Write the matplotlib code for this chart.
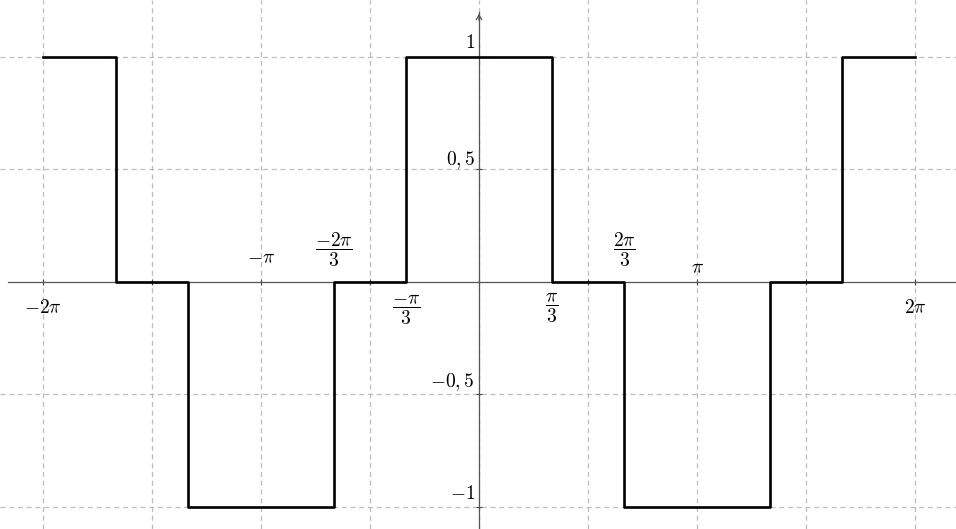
import numpy as np
import matplotlib
matplotlib.use("Agg")
import matplotlib.pyplot as plt

plt.rcParams['mathtext.fontset'] = 'cm'
plt.rcParams['font.family'] = 'serif'
plt.rcParams['font.serif'] = ['DejaVu Serif']

# step function: breakpoints in units of pi/3, value held until next breakpoint
breaks = [-6, -5, -4, -2, -1, 1, 2, 4, 5, 6]
values = [1, 0, -1, 0, 1, 0, -1, 0, 1, 1]

# x labels: (position in units of pi/3, text, height of label centre)
xlab_pos = [-6, -3, -2, -1, 1, 2, 3, 6]
xlab_txt = [r'$-2\pi$', r'$-\pi$', r'$\dfrac{-2\pi}{3}$', r'$\dfrac{-\pi}{3}$',
            r'$\dfrac{\pi}{3}$', r'$\dfrac{2\pi}{3}$', r'$\pi$', r'$2\pi$']
xlab_y = [-0.116, 0.107, 0.142, -0.124, -0.116, 0.142, 0.062, -0.116]

ylab_val = [1, 0.5, -0.5, -1]
ylab_txt = [r'$1$', r'$0,5$', r'$-0,5$', r'$-1$']
ylab_y = [1.062, 0.542, -0.444, -0.942]

fig = plt.figure(figsize=(9.56, 5.29), dpi=100)
ax = fig.add_axes([0, 0, 1, 1])
ax.set_xlim(-6.903, 6.874)
ax.set_ylim(-1.098, 1.2533)

ax.set_xticks(np.arange(-4, 5) * np.pi / 2)
ax.set_yticks([-1, -0.5, 0.5, 1])
ax.set_xticklabels([])
ax.set_yticklabels([])
ax.grid(True, color='#bdbdbd', linestyle=(0, (4, 3)), linewidth=0.9)
ax.tick_params(direction='inout', length=5, width=0.8, colors='#444444')

for s in ['top', 'right']:
    ax.spines[s].set_visible(False)
ax.spines['left'].set_position(('data', 0))
ax.spines['bottom'].set_position(('data', 0))
ax.spines['left'].set_bounds(-1.098, 1.2)
ax.spines['bottom'].set_bounds(-6.788, 6.874)
for s in ['left', 'bottom']:
    ax.spines[s].set_color('#555555')
    ax.spines[s].set_linewidth(0.9)
ax.annotate('', xy=(0, 1.205), xytext=(0, 1.15),
            arrowprops=dict(arrowstyle='->,head_length=0.35,head_width=0.2',
                            color='#555555', lw=0.9))

xs = np.array(breaks) * np.pi / 3
ax.step(xs, values, where='post', color='black', linewidth=1.9, zorder=5)

for p, t, y in zip(xlab_pos, xlab_txt, xlab_y):
    ax.text(p * np.pi / 3, y, t, ha='center', va='center', fontsize=14)
for v, t, y in zip(ylab_val, ylab_txt, ylab_y):
    ax.text(-0.06, y, t, ha='right', va='center', fontsize=14)

fig.savefig('out.png', dpi=100)
